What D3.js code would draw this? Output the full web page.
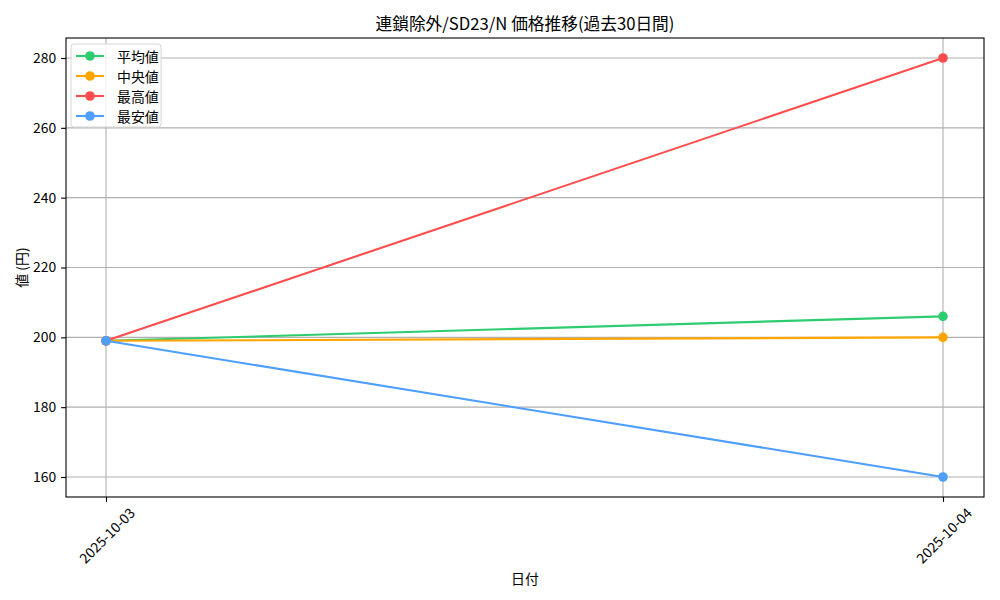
<!DOCTYPE html>
<html><head><meta charset="utf-8">
<script src="https://cdn.jsdelivr.net/npm/d3@7"></script>
<style>body{margin:0;background:#fff}svg{display:block}text{font-family:"Noto Sans CJK JP","DejaVu Sans",sans-serif}</style>
</head><body><svg id="c" width="1000" height="600"></svg>
<script>
const dates = ["2025-10-03", "2025-10-04"];
const seriesNames = ["平均値", "中央値", "最高値", "最安値"];
const seriesColors = ["#2ecc71", "#ffa500", "#ff4d4d", "#4d9eff"];
const avgValues = [199, 206];
const medianValues = [199, 200];
const maxValues = [199, 280];
const minValues = [199, 160];
const yTicks = [160, 180, 200, 220, 240, 260, 280];
const title = "連鎖除外/SD23/N 価格推移(過去30日間)";
const xLabel = "日付";
const yLabel = "値 (円)";

const series = [avgValues, medianValues, maxValues, minValues];
const svg = d3.select("#c");
const L = 66, R = 984, T = 38, B = 497;
const x = d3.scaleLinear().domain([-0.0478, 1.049]).range([L, R]);
const y = d3.scaleLinear().domain([154.27, 285.73]).range([B, T]);

// grid
svg.append("g").selectAll("line").data(yTicks).join("line")
  .attr("x1", L).attr("x2", R).attr("y1", d => y(d)).attr("y2", d => y(d))
  .attr("stroke", "#b0b0b0").attr("stroke-width", 1.1);
svg.append("g").selectAll("line").data(dates).join("line")
  .attr("x1", (d, i) => x(i)).attr("x2", (d, i) => x(i)).attr("y1", T).attr("y2", B)
  .attr("stroke", "#b0b0b0").attr("stroke-width", 1.1);

// y axis
const ya = svg.append("g").attr("transform", `translate(${L},0)`)
  .call(d3.axisLeft(y).tickValues(yTicks).tickSize(4.9).tickPadding(4.9).tickFormat(d3.format("d")));
ya.select(".domain").remove();
ya.selectAll("text").attr("font-size", 13.9).attr("fill", "#000");
ya.selectAll("line").attr("stroke", "#000").attr("stroke-width", 1.1);

// x axis
const xa = svg.append("g").attr("transform", `translate(0,${B})`)
  .call(d3.axisBottom(x).tickValues(dates.map((d, i) => i)).tickSize(4.9).tickFormat(i => dates[i]));
xa.select(".domain").remove();
xa.selectAll("line").attr("stroke", "#000").attr("stroke-width", 1.1);
xa.selectAll("text").attr("font-size", 13.9).attr("fill", "#000")
  .attr("text-anchor", "middle").attr("dy", null).attr("y", null)
  .attr("dominant-baseline", "central")
  .attr("transform", "translate(0,38) rotate(-45)");

// lines
const line = d3.line().x((d, i) => x(i)).y(d => y(d));
series.forEach((vals, k) => {
  svg.append("path").datum(vals).attr("d", line).attr("fill", "none")
    .attr("stroke", seriesColors[k]).attr("stroke-width", 2.1);
  svg.append("g").selectAll("circle").data(vals).join("circle")
    .attr("cx", (d, i) => x(i)).attr("cy", d => y(d)).attr("r", 4.8)
    .attr("fill", seriesColors[k]);
});

// frame
svg.append("rect").attr("x", L).attr("y", T).attr("width", R - L).attr("height", B - T)
  .attr("fill", "none").attr("stroke", "#000").attr("stroke-width", 1.1);

// legend
const lg = svg.append("g").attr("transform", "translate(71,44)");
lg.append("rect").attr("width", 90).attr("height", 83).attr("rx", 3)
  .attr("fill", "#fff").attr("fill-opacity", 0.8).attr("stroke", "#d6d6d6").attr("stroke-width", 1);
seriesNames.forEach((n, k) => {
  const yy = 12 + k * 20;
  lg.append("line").attr("x1", 5).attr("x2", 33).attr("y1", yy).attr("y2", yy)
    .attr("stroke", seriesColors[k]).attr("stroke-width", 2.1);
  lg.append("circle").attr("cx", 19).attr("cy", yy).attr("r", 4.8).attr("fill", seriesColors[k]);
  lg.append("text").attr("x", 46).attr("y", yy).attr("dominant-baseline", "central")
    .attr("font-size", 13.9).text(n);
});

// titles
svg.append("text").attr("x", (L + R) / 2).attr("y", 23).attr("text-anchor", "middle")
  .attr("dominant-baseline", "central").attr("font-size", 16.7).text(title);
svg.append("text").attr("x", (L + R) / 2).attr("y", 578).attr("text-anchor", "middle")
  .attr("dominant-baseline", "central").attr("font-size", 13.9).text(xLabel);
svg.append("text").attr("transform", `translate(21,${(T + B) / 2}) rotate(-90)`).attr("text-anchor", "middle")
  .attr("dominant-baseline", "central").attr("font-size", 13.9).text(yLabel);
</script></body></html>
